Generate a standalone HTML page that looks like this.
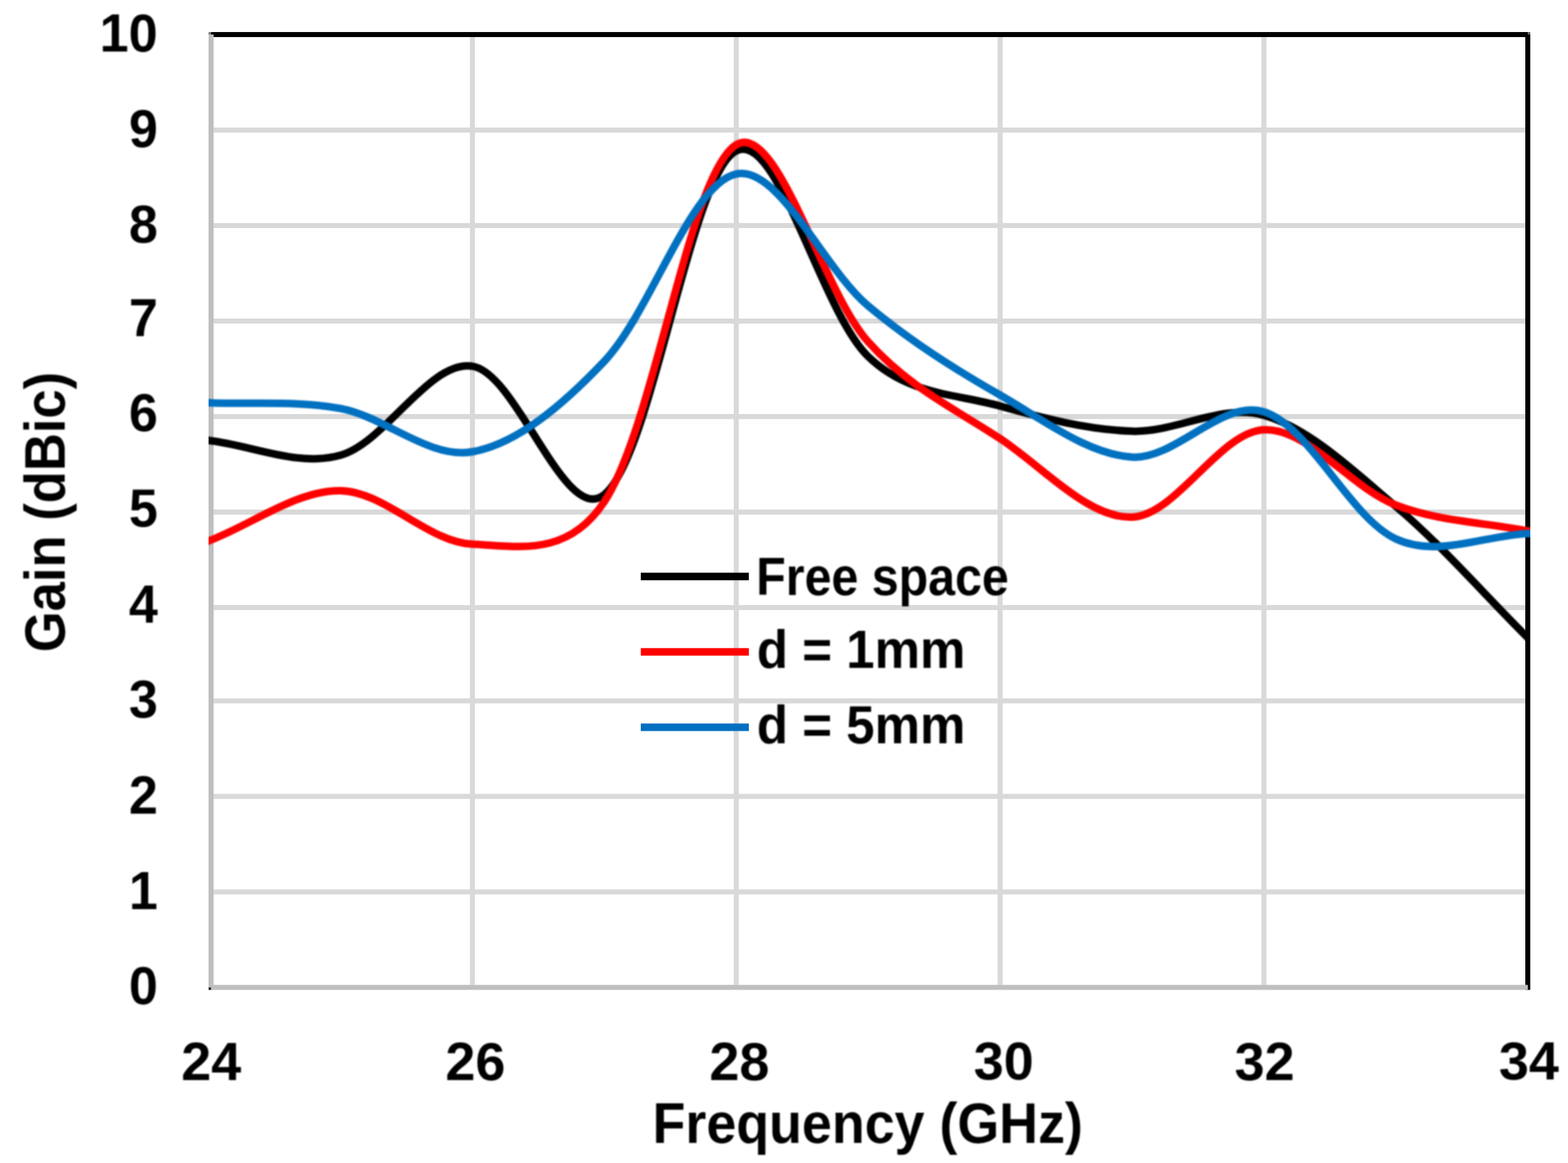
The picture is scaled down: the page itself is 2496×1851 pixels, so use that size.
<!DOCTYPE html>
<html lang="en"><head><meta charset="utf-8"><title>Gain (dBic) vs Frequency (GHz)</title>
<style>html,body{margin:0;padding:0;background:#fff}body{width:2496px;height:1851px;overflow:hidden}svg{display:block}text{font-family:'Liberation Sans', 'DejaVu Sans', sans-serif;font-weight:bold;fill:#000}</style></head><body>
<svg width="2496" height="1851" viewBox="0 0 2496 1851" role="img" aria-label="Gain (dBic) versus Frequency (GHz) for Free space, d = 1mm and d = 5mm">
<rect width="2496" height="1851" fill="#fff"/>
<g fill="#d9d9d9">
<rect x="340" y="203.0" width="2088" height="8"/>
<rect x="340" y="355.0" width="2088" height="8"/>
<rect x="340" y="507.0" width="2088" height="8"/>
<rect x="340" y="659.0" width="2088" height="8"/>
<rect x="340" y="811.0" width="2088" height="8"/>
<rect x="340" y="963.0" width="2088" height="8"/>
<rect x="340" y="1111.5" width="2088" height="8"/>
<rect x="340" y="1263.5" width="2088" height="8"/>
<rect x="340" y="1415.5" width="2088" height="8"/>
<rect x="748.0" y="59" width="8" height="1508.5"/>
<rect x="1168.0" y="59" width="8" height="1508.5"/>
<rect x="1588.0" y="59" width="8" height="1508.5"/>
<rect x="2008.0" y="59" width="8" height="1508.5"/>
</g>
<rect x="336" y="51" width="2100" height="8" fill="#000"/>
<rect x="2428" y="51" width="8" height="1524.5" fill="#000"/>
<rect x="332" y="55" width="8" height="1520.5" fill="#bfbfbf"/>
<rect x="332" y="1567.5" width="2100" height="8" fill="#bfbfbf"/>
<rect x="332" y="51" width="4" height="4" fill="#808080"/>
<rect x="2432" y="51" width="4" height="4" fill="#666"/>
<rect x="332" y="1571.5" width="4" height="4" fill="#2b2b2b"/>
<filter id="soft" filterUnits="userSpaceOnUse" x="0" y="0" width="2496" height="1851" color-interpolation-filters="sRGB"><feGaussianBlur stdDeviation="1.0"/></filter>
<clipPath id="plotclip"><rect x="332" y="51" width="2104" height="1524.5"/></clipPath>
<g clip-path="url(#plotclip)"><g fill="none" stroke-width="12" stroke-linecap="butt" stroke-linejoin="round" filter="url(#soft)">
<path stroke="#000000" d="M320.07,699.67 L332.00,701.00 C402.00,708.83 473.90,743.65 542.00,724.50 C613.90,704.28 683.53,572.68 752.00,582.90 C823.53,593.58 899.25,838.41 962.00,787.20 C1039.25,724.15 1097.70,278.97 1172.00,240.10 C1237.70,205.73 1306.23,494.22 1382.00,567.50 C1446.23,629.62 1521.50,626.36 1592.00,646.30 C1661.50,665.96 1731.89,683.85 1802.00,686.30 C1871.89,688.75 1943.97,641.61 2012.00,661.00 C2083.97,681.51 2153.57,748.32 2222.00,806.00 C2293.57,866.32 2362.00,945.33 2432.00,1015.00 L2440.51,1023.47"/>
<path stroke="#ff0000" d="M320.79,865.27 L332.00,861.00 C402.00,834.33 472.09,780.15 542.00,781.00 C612.09,781.85 681.72,863.17 752.00,866.10 C821.72,869.00 902.53,888.53 962.00,798.50 C1042.53,676.60 1097.04,275.70 1172.00,230.30 C1237.04,190.90 1308.10,461.79 1382.00,544.10 C1448.10,617.73 1521.33,651.17 1592.00,698.10 C1661.33,744.14 1732.32,825.34 1802.00,823.00 C1872.32,820.64 1941.57,687.20 2012.00,684.00 C2081.57,680.84 2150.72,776.57 2222.00,803.90 C2290.72,830.24 2362.00,831.30 2432.00,845.00 L2443.78,847.30"/>
<path stroke="#0070c0" d="M320.01,640.48 L332.00,641.00 C402.00,644.03 472.53,637.20 542.00,650.10 C612.53,663.20 683.49,731.25 752.00,719.00 C823.49,706.22 895.77,644.72 962.00,575.00 C1035.77,497.35 1099.84,292.05 1172.00,276.90 C1239.84,262.65 1310.34,426.76 1382.00,486.80 C1450.34,544.06 1521.07,588.15 1592.00,628.80 C1661.07,668.38 1731.54,723.04 1802.00,727.50 C1871.54,731.90 1944.86,634.59 2012.00,655.40 C2084.86,677.99 2148.56,823.81 2222.00,857.70 C2288.56,888.41 2362.00,852.03 2432.00,849.20 L2443.99,848.71"/>
</g></g>
<rect x="1020" y="911.5" width="172" height="12" fill="#000"/>
<rect x="1020" y="1031.5" width="172" height="12" fill="#ff0000"/>
<rect x="1020" y="1151.5" width="172" height="12" fill="#0070c0"/>
<g filter="url(#soft)">
<text x="158.50" y="81.60" font-size="86.00" textLength="92.50" lengthAdjust="spacingAndGlyphs">10</text>
<text x="205.30" y="234.00" font-size="86.00" textLength="46.00" lengthAdjust="spacingAndGlyphs">9</text>
<text x="205.30" y="386.40" font-size="86.00" textLength="46.00" lengthAdjust="spacingAndGlyphs">8</text>
<text x="205.30" y="534.50" font-size="86.00" textLength="46.00" lengthAdjust="spacingAndGlyphs">7</text>
<text x="205.30" y="686.40" font-size="86.00" textLength="46.00" lengthAdjust="spacingAndGlyphs">6</text>
<text x="205.30" y="838.40" font-size="86.00" textLength="46.00" lengthAdjust="spacingAndGlyphs">5</text>
<text x="205.30" y="990.50" font-size="86.00" textLength="46.00" lengthAdjust="spacingAndGlyphs">4</text>
<text x="205.30" y="1142.40" font-size="86.00" textLength="46.00" lengthAdjust="spacingAndGlyphs">3</text>
<text x="205.30" y="1295.00" font-size="86.00" textLength="46.00" lengthAdjust="spacingAndGlyphs">2</text>
<text x="205.30" y="1447.30" font-size="86.00" textLength="46.00" lengthAdjust="spacingAndGlyphs">1</text>
<text x="205.30" y="1597.80" font-size="86.00" textLength="46.00" lengthAdjust="spacingAndGlyphs">0</text>
<text x="288.60" y="1719.00" font-size="86.00" textLength="95.50" lengthAdjust="spacingAndGlyphs">24</text>
<text x="709.00" y="1718.50" font-size="86.00" textLength="95.50" lengthAdjust="spacingAndGlyphs">26</text>
<text x="1129.20" y="1718.50" font-size="86.00" textLength="95.50" lengthAdjust="spacingAndGlyphs">28</text>
<text x="1549.90" y="1718.00" font-size="86.00" textLength="95.50" lengthAdjust="spacingAndGlyphs">30</text>
<text x="1965.20" y="1718.50" font-size="86.00" textLength="95.50" lengthAdjust="spacingAndGlyphs">32</text>
<text x="2385.90" y="1718.00" font-size="86.00" textLength="95.50" lengthAdjust="spacingAndGlyphs">34</text>
<text x="1038.80" y="1818.90" font-size="91.50" textLength="684.90" lengthAdjust="spacingAndGlyphs">Frequency (GHz)</text>
<text x="103.00" y="1038.00" font-size="91.50" textLength="446.20" lengthAdjust="spacingAndGlyphs" transform="rotate(-90 103.00 1038.00)">Gain (dBic)</text>
<text x="1203.80" y="946.60" font-size="85.00" textLength="402.00" lengthAdjust="spacingAndGlyphs">Free space</text>
<text x="1204.80" y="1062.50" font-size="85.00" textLength="331.90" lengthAdjust="spacingAndGlyphs">d = 1mm</text>
<text x="1204.80" y="1182.50" font-size="85.00" textLength="331.90" lengthAdjust="spacingAndGlyphs">d = 5mm</text>
</g>
</svg></body></html>
